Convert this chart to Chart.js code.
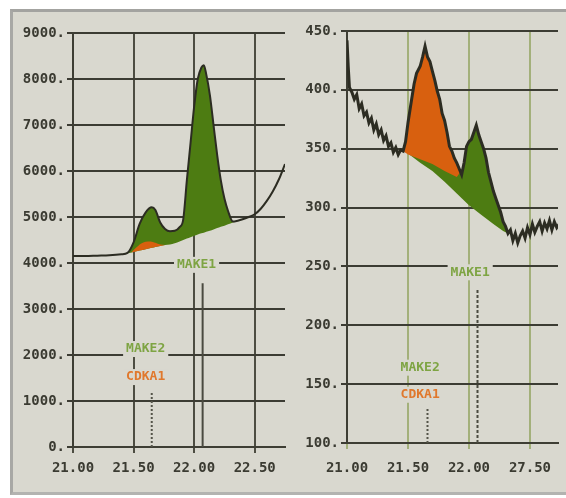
<!DOCTYPE html>
<html>
<head>
<meta charset="utf-8">
<script src="https://cdn.jsdelivr.net/npm/chart.js@4.4.1/dist/chart.umd.min.js"></script>
<style>
  body { margin: 0; background: #fff; width: 566px; height: 498px; overflow: hidden; position: relative; }
  #panel {
    position: absolute; left: 10px; top: 9px; width: 556px; height: 486px;
    box-sizing: border-box; background: #d9d8cf;
    border-top: 3px solid #a3a3a0; border-left: 3px solid #a8a8a5; border-bottom: 3px solid #b3b3b0;
  }
  canvas { position: absolute; top: 12px; }
  #leftChart { left: 13px; }
  #rightChart { left: 290px; }
</style>
</head>
<body>
<div id="panel"></div>
<canvas id="leftChart" width="277" height="483"></canvas>
<canvas id="rightChart" width="276" height="483"></canvas>
<script>
// ---- left panel data ----
const leftX = [21.00, 21.10, 21.20, 21.30, 21.40, 21.45, 21.50, 21.55, 21.60, 21.65, 21.68, 21.72, 21.76, 21.80, 21.84, 21.88, 21.91, 21.94, 21.97, 22.00, 22.03, 22.06, 22.08, 22.10, 22.13, 22.16, 22.19, 22.22, 22.25, 22.28, 22.32, 22.36, 22.40, 22.45, 22.50, 22.55, 22.60, 22.65, 22.70, 22.75];
const leftTotal = [4150, 4150, 4160, 4170, 4190, 4220, 4450, 4850, 5100, 5210, 5150, 4880, 4740, 4690, 4700, 4780, 4950, 5800, 6600, 7400, 8000, 8250, 8300, 8100, 7650, 7000, 6350, 5800, 5400, 5130, 4900, 4920, 4950, 5000, 5060, 5180, 5350, 5560, 5820, 6150];
const leftBase = [4150, 4150, 4160, 4170, 4190, 4210, 4240, 4270, 4300, 4330, 4350, 4370, 4390, 4400, 4430, 4470, 4500, 4530, 4560, 4590, 4620, 4645, 4660, 4680, 4700, 4730, 4760, 4790, 4810, 4840, 4880, 4920, 4950, 5000, 5060, 5180, 5350, 5560, 5820, 6150];
const leftMidX = [21.48, 21.52, 21.56, 21.60, 21.64, 21.68, 21.72, 21.76];
const leftMid = [4230, 4330, 4420, 4460, 4470, 4440, 4400, 4390];
const leftXTicks = [21.0, 21.5, 22.0, 22.5];
const leftXLabels = ['21.00', '21.50', '22.00', '22.50'];
const leftYTicks = [0, 1000, 2000, 3000, 4000, 5000, 6000, 7000, 8000, 9000];
const leftMarkers = [[21.65, 0, 1200], [22.07, 0, 3560]];
const leftNotes = [['MAKE1', 22.02, 3960, '#7ea443'], ['MAKE2', 21.60, 2130, '#7ea443'], ['CDKA1', 21.60, 1520, '#e0782c']];

// ---- right panel data ----
const rightX = [21.00, 21.01, 21.02, 21.04, 21.06, 21.08, 21.10, 21.12, 21.14, 21.16, 21.18, 21.20, 21.22, 21.24, 21.26, 21.28, 21.30, 21.32, 21.34, 21.36, 21.38, 21.40, 21.42, 21.44, 21.46, 21.48, 21.50, 21.53, 21.55, 21.57, 21.60, 21.62, 21.64, 21.66, 21.68, 21.70, 21.72, 21.74, 21.76, 21.78, 21.80, 21.82, 21.84, 21.86, 21.88, 21.90, 21.92, 21.94, 21.96, 21.98, 22.00, 22.02, 22.04, 22.06, 22.08, 22.10, 22.12, 22.14, 22.16, 22.18, 22.20, 22.22, 22.24, 22.26, 22.28, 22.30, 22.32, 22.34, 22.36, 22.38, 22.40, 22.42, 22.44, 22.46, 22.48, 22.50, 22.52, 22.54, 22.56, 22.58, 22.60, 22.62, 22.64, 22.66, 22.68, 22.70, 22.72, 22.74];
const rightTotal = [442, 420, 402, 398, 392, 396, 384, 388, 378, 381, 372, 376, 366, 371, 362, 366, 357, 361, 352, 355, 347, 351, 345, 349, 348, 356, 372, 392, 405, 414, 420, 428, 437, 428, 424, 416, 408, 399, 392, 380, 374, 364, 352, 348, 342, 338, 333, 328, 338, 352, 356, 358, 364, 370, 362, 356, 350, 342, 330, 322, 314, 308, 302, 296, 288, 284, 278, 281, 272, 278, 270, 276, 280, 274, 283, 277, 286, 279, 284, 288, 280, 287, 282, 289, 281, 288, 283, 286];
const rightBaseX = [21.46, 21.50, 21.60, 21.70, 21.80, 21.90, 22.00, 22.10, 22.20, 22.28, 22.32];
const rightBase = [348, 346, 338, 331, 322, 312, 302, 294, 286, 280, 278];
const rightMidX = [21.46, 21.50, 21.60, 21.70, 21.80, 21.90, 21.95];
const rightMid = [348, 345, 341, 337, 331, 326, 333];
const rightXTicks = [21.0, 21.5, 22.0, 22.5];
const rightXLabels = ['21.00', '21.50', '22.00', '27.50'];
const rightYTicks = [100, 150, 200, 250, 300, 350, 400, 450];
const rightMarkers = [[21.66, 100, 129], [22.07, 100, 230]];
const rightNotes = [['MAKE1', 22.01, 245, '#7ea443'], ['MAKE2', 21.60, 164, '#7ea443'], ['CDKA1', 21.60, 141, '#e0782c']];

const GREEN = '#4d7c12';
const ORANGE = '#d8600f';
const LINE = '#2c2c22';
const BG = '#d9d8cf';

Chart.defaults.font.family = "'DejaVu Sans Mono', monospace";
Chart.defaults.font.weight = 'bold';
Chart.defaults.color = '#3b3b32';

function pts(xs, ys) {
    return xs.map((x, i) => ({x: x, y: ys[i]}));
}

const notesPlugin = {
    id: 'notes',
    afterDatasetsDraw(chart, args, opts) {
        const ctx = chart.ctx;
        const xs = chart.scales.x, ys = chart.scales.y;
        ctx.save();
        ctx.font = "bold 13px 'DejaVu Sans Mono', monospace";
        ctx.textAlign = 'center';
        ctx.textBaseline = 'middle';
        opts.notes.forEach(n => {
            const px = xs.getPixelForValue(n[1]);
            const py = ys.getPixelForValue(n[2]);
            const w = ctx.measureText(n[0]).width;
            ctx.fillStyle = BG;
            ctx.fillRect(px - w / 2 - 3, py - 8, w + 6, 16);
            ctx.fillStyle = n[3];
            ctx.fillText(n[0], px, py);
        });
        ctx.restore();
    }
};

function makeChart(id, cfg) {
    const markerSets = cfg.markers.map((m, i) => ({
        data: [{x: m[0], y: m[1]}, {x: m[0], y: m[2]}],
        borderColor: i == 0 ? '#55554a' : '#4a4a40',
        borderWidth: 2,
        borderDash: i == 0 ? [2, 2] : (cfg.dashAll ? [3, 2] : []),
        pointRadius: 0,
        fill: false,
        order: 0,
    }));
    return new Chart(document.getElementById(id), {
        type: 'line',
        data: {
            datasets: [{
                data: pts(cfg.x, cfg.total),
                borderColor: LINE,
                borderWidth: cfg.lineWidth,
                backgroundColor: GREEN,
                fill: 1,
                pointRadius: 0,
                tension: cfg.tension,
                cubicInterpolationMode: cfg.tension ? 'monotone' : 'default',
                order: 3,
            }, {
                data: pts(cfg.baseX, cfg.base),
                borderWidth: 0,
                borderColor: 'rgba(0,0,0,0)',
                fill: false,
                pointRadius: 0,
                tension: cfg.tension,
                cubicInterpolationMode: cfg.tension ? 'monotone' : 'default',
                order: 4,
            }, {
                data: pts(cfg.midX, cfg.mid),
                borderWidth: 0,
                borderColor: 'rgba(0,0,0,0)',
                backgroundColor: ORANGE,
                fill: cfg.midTarget,
                pointRadius: 0,
                tension: cfg.tension,
                cubicInterpolationMode: cfg.tension ? 'monotone' : 'default',
                order: 2,
            }].concat(markerSets)
        },
        options: {
            responsive: false,
            animation: false,
            layout: { padding: cfg.padding },
            plugins: {
                legend: { display: false },
                tooltip: { enabled: false },
                filler: { drawTime: 'beforeDatasetsDraw' },
                notes: { notes: cfg.notes },
            },
            scales: {
                x: {
                    type: 'linear',
                    min: 21,
                    max: cfg.xMax,
                    afterBuildTicks: (s) => { s.ticks = cfg.xTicks.map(v => ({value: v})); },
                    afterFit: (s) => { s.height = cfg.xHeight; },
                    ticks: {
                        font: { size: 14 },
                        padding: cfg.xPad,
                        maxRotation: 0,
                        callback: (v, i) => cfg.xLabels[i],
                    },
                    grid: { color: cfg.vGrid, lineWidth: 2, tickLength: 6 },
                    border: { color: '#3e3e34', width: 2 },
                },
                y: {
                    min: cfg.yTicks[0],
                    max: cfg.yTicks[cfg.yTicks.length - 1],
                    afterBuildTicks: (s) => { s.ticks = cfg.yTicks.map(v => ({value: v})); },
                    afterFit: (s) => { s.width = cfg.yWidth; },
                    ticks: {
                        font: { size: 14 },
                        padding: 2,
                        callback: (v) => v + '.',
                    },
                    grid: { color: '#3c3c33', lineWidth: 2, tickLength: 6 },
                    border: { color: '#3e3e34', width: 2 },
                }
            }
        },
        plugins: [notesPlugin]
    });
}

makeChart('leftChart', {
    x: leftX, total: leftTotal, baseX: leftX, base: leftBase, midX: leftMidX, mid: leftMid,
    midTarget: 1, tension: 0.3, lineWidth: 2,
    xMax: 22.75, xTicks: leftXTicks, xLabels: leftXLabels, yTicks: leftYTicks,
    markers: leftMarkers, notes: leftNotes, vGrid: '#4d4d42',
    padding: { left: 0, right: 5, top: 21, bottom: 0 },
    xHeight: 48, yWidth: 60, xPad: 7,
});

makeChart('rightChart', {
    x: rightX, total: rightTotal, baseX: rightBaseX, base: rightBase, midX: rightMidX, mid: rightMid,
    midTarget: 0, tension: 0, lineWidth: 3,
    xMax: 22.73, xTicks: rightXTicks, xLabels: rightXLabels, yTicks: rightYTicks,
    markers: rightMarkers, notes: rightNotes, vGrid: '#a3b07a', dashAll: true,
    padding: { left: 0, right: 8, top: 19, bottom: 0 },
    xHeight: 52, yWidth: 57, xPad: 11,
});
</script>
</body>
</html>
